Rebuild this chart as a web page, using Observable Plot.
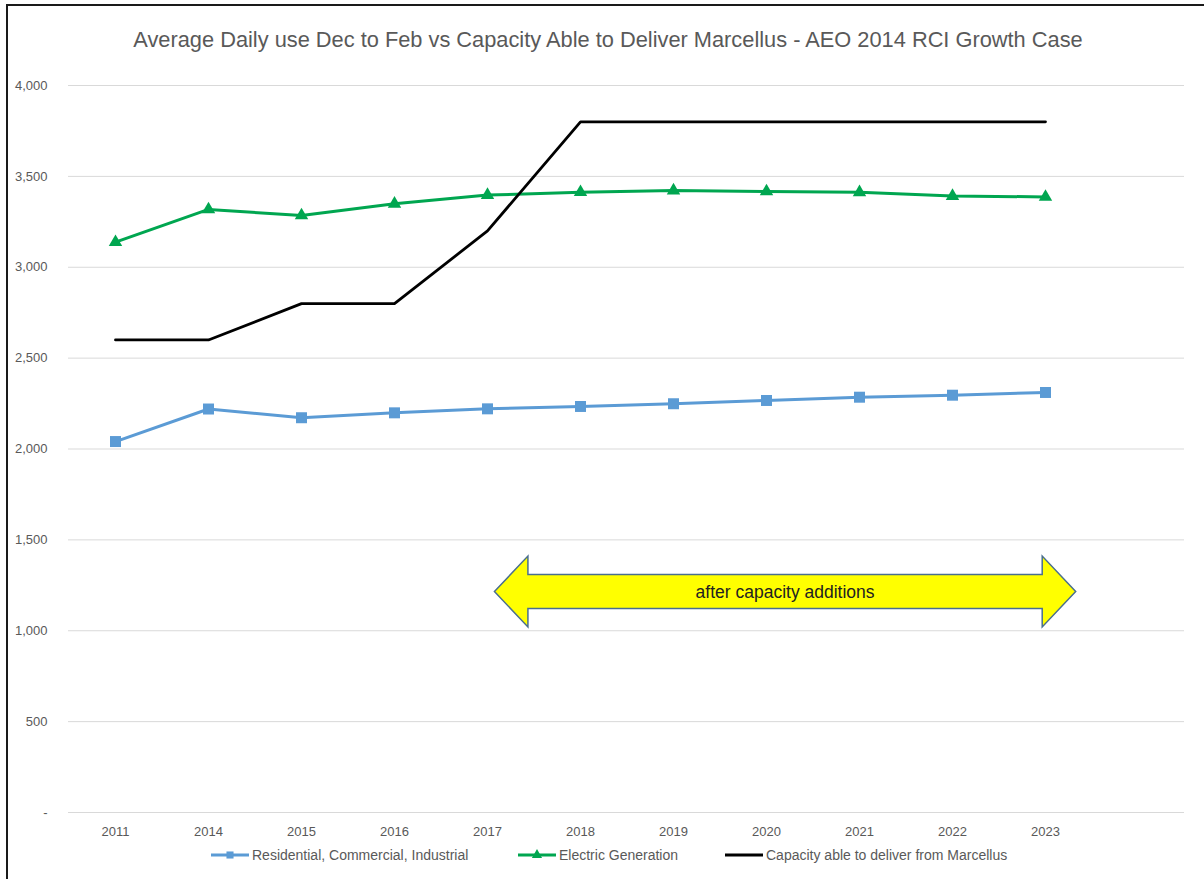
<!DOCTYPE html>
<html>
<head>
<meta charset="utf-8">
<script src="https://cdn.jsdelivr.net/npm/d3@7"></script>
<script src="https://cdn.jsdelivr.net/npm/@observablehq/plot@0.6"></script>
<style>
  html, body { margin: 0; padding: 0; background: #fff; }
  #page { position: relative; width: 1204px; height: 879px; overflow: hidden; font-family: "Liberation Sans", "Open Sans", sans-serif; }
  #borderTop { position: absolute; left: 6px; top: 4px; width: 1198px; height: 2px; background: #1a1a1a; }
  #borderLeft { position: absolute; left: 6px; top: 4px; width: 2px; height: 875px; background: #1a1a1a; }
  #title { position: absolute; left: 6px; top: 0; width: 1204px; height: 62px; line-height: 80px; text-align: center; font-size: 21.8px; color: #595959; }
  #chart { position: absolute; left: 0; top: 62px; }
  #legend { position: absolute; left: 0; top: 842px; width: 1204px; height: 30px; font-size: 14px; color: #595959; }
  .item { position: absolute; top: 5px; display: flex; align-items: center; white-space: nowrap; }
  .item svg { display: block; margin-right: 2px; }
</style>
</head>
<body>
<div id="page">
  <div id="title"></div>
  <div id="chart"></div>
  <div id="legend"></div>
  <div id="borderTop"></div>
  <div id="borderLeft"></div>
</div>
<script>
// ---- data ----
const titleText = "Average Daily use Dec to Feb vs Capacity Able to Deliver Marcellus - AEO 2014 RCI Growth Case";
const years = ["2011", "2014", "2015", "2016", "2017", "2018", "2019", "2020", "2021", "2022", "2023"];
const rci = [2041, 2220, 2172, 2199, 2221, 2234, 2249, 2267, 2285, 2296, 2311];
const electric = [3138, 3318, 3285, 3349, 3397, 3413, 3422, 3417, 3412, 3392, 3387];
const capacity = [2600, 2600, 2800, 2800, 3200, 3800, 3800, 3800, 3800, 3800, 3800];
const seriesNames = ["Residential, Commercial, Industrial", "Electric Generation", "Capacity able to deliver from Marcellus"];
const seriesColors = ["#5B9BD5", "#00A650", "#000000"];
const seriesSymbols = ["square", "triangle", null];
const yTicks = [0, 500, 1000, 1500, 2000, 2500, 3000, 3500, 4000];
const arrowNote = { from: "2017", to: "2023", value: 1213, text: "after capacity additions" };

// ---- build ----
document.getElementById("title").textContent = titleText;
const seriesValues = [rci, electric, capacity];
const rows = [];
seriesValues.forEach((vals, s) => vals.forEach((v, i) => rows.push({ series: seriesNames[s], year: years[i], value: v })));
const xDomain = [...years, ""]; // Excel leaves one empty category slot at the right

const arrowMark = Plot.text([arrowNote], {
  x: d => d.from, y: d => d.value, text: d => d.text,
  render(index, scales, values, dimensions, context, next) {
    const sx = scales.x, sy = scales.y;
    const step = sx(years[1]) - sx(years[0]);
    const d = arrowNote;
    const xl = sx(d.from) + 0.08 * step, xlb = sx(d.from) + 0.44 * step;
    const xrb = sx(d.to) - 0.03 * step, xr = sx(d.to) + 0.33 * step;
    const yc = sy(d.value);
    const sh = sy(d.value) - sy(d.value + 94), hh = sy(d.value) - sy(d.value + 195);
    const pts = [[xl, yc], [xlb, yc - hh], [xlb, yc - sh], [xrb, yc - sh], [xrb, yc - hh], [xr, yc],
                 [xrb, yc + hh], [xrb, yc + sh], [xlb, yc + sh], [xlb, yc + hh]];
    const g = d3.create("svg:g");
    g.append("path").attr("d", "M" + pts.map(p => p.join(",")).join("L") + "Z")
      .attr("fill", "#FFFF00").attr("stroke", "#4A6F8E").attr("stroke-width", 1.5).attr("stroke-linejoin", "miter");
    g.append("text").attr("x", (xlb + xrb) / 2).attr("y", yc).attr("dy", "0.35em")
      .attr("text-anchor", "middle").attr("font-size", 17.5).attr("fill", "#222").text(d.text);
    return g.node();
  }
});

const marks = [
  Plot.gridY(yTicks, { stroke: "#D9D9D9", strokeOpacity: 1, strokeWidth: 1 }),
  Plot.axisY(yTicks, { tickSize: 0, tickPadding: 21, fontSize: 13, color: "#595959",
    tickFormat: d => d === 0 ? "-" : d3.format(",")(d) }),
  Plot.axisX({ tickSize: 0, tickPadding: 14, fontSize: 13, color: "#595959", label: null }),
  arrowMark
];
seriesNames.forEach((name, s) => {
  const data = rows.filter(r => r.series === name);
  marks.push(Plot.line(data, { x: "year", y: "value", stroke: seriesColors[s], strokeWidth: s === 2 ? 2.8 : 3 }));
  if (seriesSymbols[s]) {
    marks.push(Plot.dot(data, { x: "year", y: "value", symbol: seriesSymbols[s], fill: seriesColors[s],
      r: seriesSymbols[s] === "square" ? 6.2 : 5 }));
  }
});

const chart = Plot.plot({
  width: 1204, height: 780,
  marginTop: 23, marginBottom: 30, marginLeft: 68, marginRight: 20,
  style: { fontFamily: "'Liberation Sans', 'Open Sans', sans-serif", background: "transparent" },
  x: { type: "point", domain: xDomain, padding: 0.5, label: null },
  y: { domain: [0, 4000], label: null },
  marks
});
document.getElementById("chart").appendChild(chart);

// ---- legend ----
const legend = document.getElementById("legend");
const legendLeft = [210, 517, 724];
seriesNames.forEach((name, s) => {
  const item = document.createElement("div");
  item.className = "item";
  item.style.left = legendLeft[s] + "px";
  const sv = d3.create("svg").attr("width", 40).attr("height", 14);
  sv.append("line").attr("x1", 1).attr("x2", 39).attr("y1", 7).attr("y2", 7)
    .attr("stroke", seriesColors[s]).attr("stroke-width", 3);
  if (seriesSymbols[s]) {
    const sym = seriesSymbols[s] === "square" ? d3.symbolSquare : d3.symbolTriangle;
    sv.append("path").attr("d", d3.symbol(sym, seriesSymbols[s] === "square" ? 50 : 45)())
      .attr("transform", "translate(20,7)").attr("fill", seriesColors[s]);
  }
  item.appendChild(sv.node());
  const span = document.createElement("span");
  span.textContent = name;
  item.appendChild(span);
  legend.appendChild(item);
});
</script>
</body>
</html>
